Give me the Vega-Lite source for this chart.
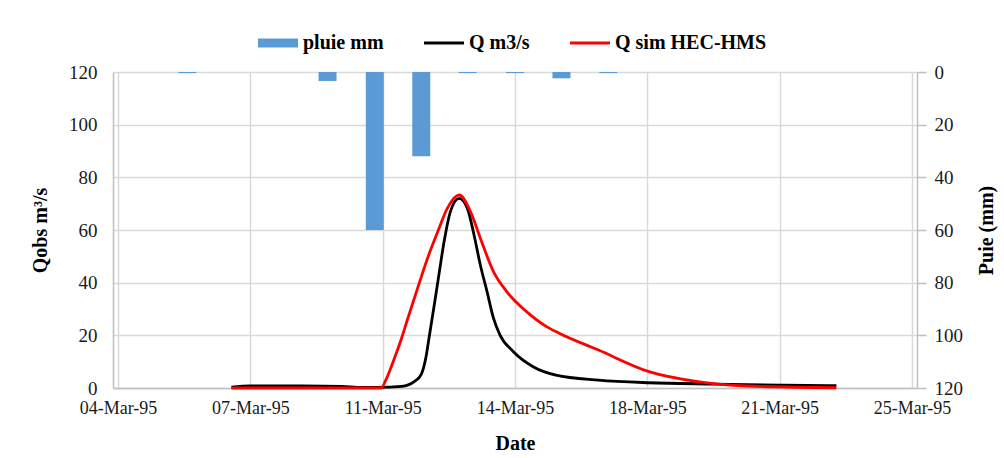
{
  "$schema": "https://vega.github.io/schema/vega-lite/v6.json",
  "width": 804,
  "height": 316,
  "autosize": {"type": "none"},
  "padding": {"left": 113, "top": 72, "right": 87, "bottom": 70},
  "background": "white",
  "config": {
    "view": {"stroke": null},
    "font": "Times New Roman, Liberation Serif, serif",
    "axis": {
      "labelFont": "Times New Roman, Liberation Serif, serif",
      "titleFont": "Times New Roman, Liberation Serif, serif",
      "labelColor": "#1a1a1a",
      "titleColor": "#000000",
      "titleFontWeight": "bold",
      "titleFontSize": 20,
      "labelFontSize": 19,
      "domainColor": "#bfbfbf",
      "domainWidth": 1.5,
      "gridColor": "#d9d9d9",
      "gridWidth": 1.5,
      "tickColor": "#bfbfbf",
      "tickWidth": 1.5
    }
  },
  "layer": [
    {
      "data": {
        "values": [
          {"date": "1995-03-05T20:00", "rain": 0.4, "series": "pluie mm"},
          {"date": "1995-03-09T13:00", "rain": 3.4, "series": "pluie mm"},
          {"date": "1995-03-10T19:00", "rain": 60, "series": "pluie mm"},
          {"date": "1995-03-12T00:30", "rain": 32, "series": "pluie mm"},
          {"date": "1995-03-13T06:00", "rain": 0.4, "series": "pluie mm"},
          {"date": "1995-03-14T12:00", "rain": 0.4, "series": "pluie mm"},
          {"date": "1995-03-15T17:30", "rain": 2.4, "series": "pluie mm"},
          {"date": "1995-03-16T23:15", "rain": 0.4, "series": "pluie mm"}
        ],
        "format": {"parse": {"date": "utc:'%Y-%m-%dT%H:%M'"}}
      },
      "mark": {"type": "bar", "size": 18},
      "encoding": {
        "x": {
          "field": "date",
          "type": "temporal",
          "scale": {
            "type": "utc",
            "nice": false,
            "domain": [
              {"year": 1995, "month": 3, "date": 4, "utc": true},
              {"year": 1995, "month": 3, "date": 25, "utc": true}
            ]
          },
          "axis": {
            "title": "Date",
            "values": [
              {"year": 1995, "month": 3, "date": 4, "hours": 0, "utc": true},
              {"year": 1995, "month": 3, "date": 7, "hours": 12, "utc": true},
              {"year": 1995, "month": 3, "date": 11, "hours": 0, "utc": true},
              {"year": 1995, "month": 3, "date": 14, "hours": 12, "utc": true},
              {"year": 1995, "month": 3, "date": 18, "hours": 0, "utc": true},
              {"year": 1995, "month": 3, "date": 21, "hours": 12, "utc": true},
              {"year": 1995, "month": 3, "date": 25, "hours": 0, "utc": true}
            ],
            "labelExpr": "utcFormat(datum.value, '%d-%b-%y')",
            "grid": true,
            "ticks": false,
            "labelPadding": 11,
            "labelFontSize": 18,
            "titlePadding": 16,
            "labelOverlap": false
          }
        },
        "y": {
          "field": "rain",
          "type": "quantitative",
          "scale": {"domain": [0, 120], "reverse": true, "nice": false},
          "axis": {
            "orient": "right",
            "title": "Puie (mm)",
            "values": [0, 20, 40, 60, 80, 100, 120],
            "grid": false,
            "tickSize": 9,
            "labelPadding": 8,
            "titleAngle": 270,
            "titleBaseline": "top",
            "titlePadding": 14
          }
        },
        "color": {
          "field": "series",
          "type": "nominal",
          "scale": {
            "domain": ["pluie mm", "Q m3/s", "Q sim HEC-HMS"],
            "range": ["#5b9bd5", "#000000", "#ff0000"]
          },
          "legend": {
            "orient": "none",
            "legendX": 145,
            "legendY": -49,
            "direction": "horizontal",
            "title": null,
            "padding": 0,
            "labelFont": "Times New Roman, Liberation Serif, serif",
            "labelFontSize": 20,
            "labelFontWeight": "bold",
            "labelColor": "#000000",
            "symbolSize": 1600,
            "labelOffset": 5,
            "columnPadding": 40,
            "symbolStrokeWidth": 0,
            "encode": {
              "symbols": {
                "update": {
                  "shape": {"signal": "datum.value === 'pluie mm' ? 'M-1,-0.22H1V0.22H-1Z' : 'M-1,-0.07H1V0.07H-1Z'"},
                  "fill": {"scale": "color", "field": "value"},
                  "stroke": {"value": "transparent"},
                  "opacity": {"value": 1}
                }
              }
            }
          }
        }
      }
    },
    {
      "data": {
        "values": [
          {"date": "1995-03-07T00:00", "series": "Q m3/s", "Q": 0.3},
          {"date": "1995-03-07T12:00", "series": "Q m3/s", "Q": 0.8},
          {"date": "1995-03-08T21:00", "series": "Q m3/s", "Q": 0.8},
          {"date": "1995-03-09T22:00", "series": "Q m3/s", "Q": 0.6},
          {"date": "1995-03-10T11:00", "series": "Q m3/s", "Q": 0.2},
          {"date": "1995-03-10T21:00", "series": "Q m3/s", "Q": 0.2},
          {"date": "1995-03-11T12:00", "series": "Q m3/s", "Q": 0.6},
          {"date": "1995-03-11T20:00", "series": "Q m3/s", "Q": 2.4},
          {"date": "1995-03-12T00:30", "series": "Q m3/s", "Q": 5.2},
          {"date": "1995-03-12T03:30", "series": "Q m3/s", "Q": 11.8},
          {"date": "1995-03-12T05:30", "series": "Q m3/s", "Q": 19.3},
          {"date": "1995-03-12T08:45", "series": "Q m3/s", "Q": 31.5},
          {"date": "1995-03-12T12:00", "series": "Q m3/s", "Q": 44.2},
          {"date": "1995-03-12T15:00", "series": "Q m3/s", "Q": 55.6},
          {"date": "1995-03-12T19:00", "series": "Q m3/s", "Q": 67.0},
          {"date": "1995-03-13T00:30", "series": "Q m3/s", "Q": 72.0},
          {"date": "1995-03-13T05:45", "series": "Q m3/s", "Q": 68.2},
          {"date": "1995-03-13T10:00", "series": "Q m3/s", "Q": 58.1},
          {"date": "1995-03-13T14:00", "series": "Q m3/s", "Q": 46.7},
          {"date": "1995-03-13T18:15", "series": "Q m3/s", "Q": 36.6},
          {"date": "1995-03-13T22:20", "series": "Q m3/s", "Q": 26.5},
          {"date": "1995-03-14T02:30", "series": "Q m3/s", "Q": 20.1},
          {"date": "1995-03-14T11:00", "series": "Q m3/s", "Q": 13.8},
          {"date": "1995-03-14T23:30", "series": "Q m3/s", "Q": 8.1},
          {"date": "1995-03-15T14:00", "series": "Q m3/s", "Q": 4.9},
          {"date": "1995-03-16T17:00", "series": "Q m3/s", "Q": 3.0},
          {"date": "1995-03-18T01:00", "series": "Q m3/s", "Q": 2.0},
          {"date": "1995-03-19T18:00", "series": "Q m3/s", "Q": 1.5},
          {"date": "1995-03-21T12:00", "series": "Q m3/s", "Q": 1.1},
          {"date": "1995-03-23T00:00", "series": "Q m3/s", "Q": 0.9},
          {"date": "1995-03-07T00:00", "series": "Q sim HEC-HMS", "Q": 0},
          {"date": "1995-03-09T00:00", "series": "Q sim HEC-HMS", "Q": 0},
          {"date": "1995-03-10T23:00", "series": "Q sim HEC-HMS", "Q": 0},
          {"date": "1995-03-11T02:00", "series": "Q sim HEC-HMS", "Q": 3.0},
          {"date": "1995-03-11T07:00", "series": "Q sim HEC-HMS", "Q": 10.5},
          {"date": "1995-03-11T12:00", "series": "Q sim HEC-HMS", "Q": 18.9},
          {"date": "1995-03-11T16:00", "series": "Q sim HEC-HMS", "Q": 26.5},
          {"date": "1995-03-11T22:20", "series": "Q sim HEC-HMS", "Q": 38.2},
          {"date": "1995-03-12T04:30", "series": "Q sim HEC-HMS", "Q": 49.3},
          {"date": "1995-03-12T11:00", "series": "Q sim HEC-HMS", "Q": 59.4},
          {"date": "1995-03-12T17:00", "series": "Q sim HEC-HMS", "Q": 68.2},
          {"date": "1995-03-13T00:30", "series": "Q sim HEC-HMS", "Q": 73.3},
          {"date": "1995-03-13T07:45", "series": "Q sim HEC-HMS", "Q": 67.0},
          {"date": "1995-03-13T14:00", "series": "Q sim HEC-HMS", "Q": 56.9},
          {"date": "1995-03-13T22:20", "series": "Q sim HEC-HMS", "Q": 44.2},
          {"date": "1995-03-14T06:45", "series": "Q sim HEC-HMS", "Q": 36.6},
          {"date": "1995-03-14T19:20", "series": "Q sim HEC-HMS", "Q": 29.0},
          {"date": "1995-03-15T08:00", "series": "Q sim HEC-HMS", "Q": 23.3},
          {"date": "1995-03-15T16:00", "series": "Q sim HEC-HMS", "Q": 20.8},
          {"date": "1995-03-16T17:00", "series": "Q sim HEC-HMS", "Q": 14.4},
          {"date": "1995-03-18T01:00", "series": "Q sim HEC-HMS", "Q": 6.2},
          {"date": "1995-03-19T08:00", "series": "Q sim HEC-HMS", "Q": 2.4},
          {"date": "1995-03-20T15:00", "series": "Q sim HEC-HMS", "Q": 0.76},
          {"date": "1995-03-23T00:00", "series": "Q sim HEC-HMS", "Q": 0.1}
        ],
        "format": {"parse": {"date": "utc:'%Y-%m-%dT%H:%M'"}}
      },
      "mark": {"type": "line", "strokeWidth": 2.8, "interpolate": "monotone"},
      "encoding": {
        "x": {"field": "date", "type": "temporal"},
        "y": {
          "field": "Q",
          "type": "quantitative",
          "scale": {"domain": [0, 120], "nice": false},
          "axis": {
            "orient": "left",
            "title": "Qobs m³/s",
            "values": [0, 20, 40, 60, 80, 100, 120],
            "grid": true,
            "ticks": false,
            "labelPadding": 16,
            "titlePadding": 18
          }
        },
        "color": {"field": "series", "type": "nominal"}
      }
    }
  ],
  "resolve": {"scale": {"y": "independent"}, "axis": {"y": "independent"}}
}
